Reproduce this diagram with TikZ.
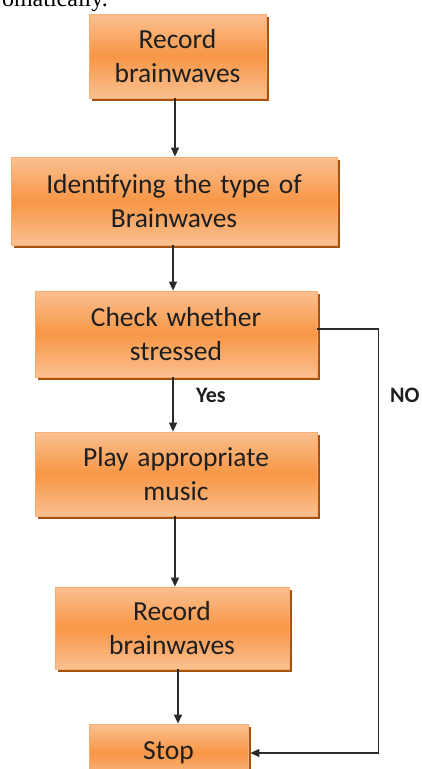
\documentclass[tikz,border=0pt]{standalone}
\usepackage{fontspec}
\setmainfont{Carlito}
\newfontfamily\boxfont[WordSpace=1.4]{Carlito}
\newfontfamily\serifbody{Liberation Serif}
\usetikzlibrary{arrows.meta,shadows,calc}
\definecolor{boxtop}{HTML}{FAC090}
\definecolor{boxmid}{HTML}{F79646}
\definecolor{boxline}{HTML}{F6AE72}
\definecolor{boxshadow}{HTML}{A9520F}
\definecolor{inktext}{HTML}{1E1E1E}
\definecolor{linecol}{HTML}{2A2A2A}
\begin{document}
\begin{tikzpicture}[x=1pt,y=-1pt,
  stepbox/.style={rectangle, draw=boxline, line width=0.8pt,
    top color=boxtop, bottom color=boxtop, middle color=boxmid,
    drop shadow={shadow xshift=3pt, shadow yshift=-3pt, fill=boxshadow, opacity=1},
    inner sep=0pt, align=center, text=inktext,
    font=\boxfont\fontsize{27.5}{34}\selectfont},
  flow/.style={draw=linecol, line width=1.2pt, -{Triangle[length=9pt,width=8pt]}},
  lbl/.style={font=\fontsize{22}{26}\selectfont\bfseries, text=inktext, inner sep=0pt}]
\useasboundingbox (0,0) rectangle (422,769);
\clip (0,0) rectangle (422,769);
\node[anchor=base east, inner sep=0pt, font=\serifbody\fontsize{24}{28}\selectfont] (top) at (108,6) {omatically.};
\node[stepbox, minimum width=177, minimum height=84] (b1) at (177.5,56) {Record\\brainwaves};
\node[stepbox, minimum width=326, minimum height=88] (b2) at (174,201) {Identifying the type of\\Brainwaves};
\node[stepbox, minimum width=282, minimum height=86] (b3) at (176,334) {Check whether\\stressed};
\node[stepbox, minimum width=282, minimum height=84] (b4) at (176,474) {Play appropriate\\music};
\node[stepbox, minimum width=234, minimum height=82] (b5) at (172,628) {Record\\brainwaves};
\node[stepbox, minimum width=159, minimum height=58] (stop) at (168.5,753) {Stop};
\node[lbl] (yes) at (211,395) {Yes};
\node[lbl, anchor=west] (no) at (390,395) {NO};
\draw[flow] ([xshift=-2.5]b1.south) -- ([xshift=-2.5]b1.south |- b2.north);
\draw[flow] ([xshift=-1]b2.south) -- ([xshift=-1]b2.south |- b3.north);
\draw[flow] ([xshift=-3]b3.south) -- ([xshift=-3]b3.south |- b4.north);
\draw[flow] ([xshift=-1]b4.south) -- ([xshift=-1]b4.south |- b5.north);
\draw[flow] ([xshift=6]b5.south) -- ([xshift=6]b5.south |- stop.north);
\draw[flow] ([yshift=5]b3.east) -- ++(61,0) coordinate (turn) |- ([xshift=2]stop.east);
\end{tikzpicture}
\end{document}
